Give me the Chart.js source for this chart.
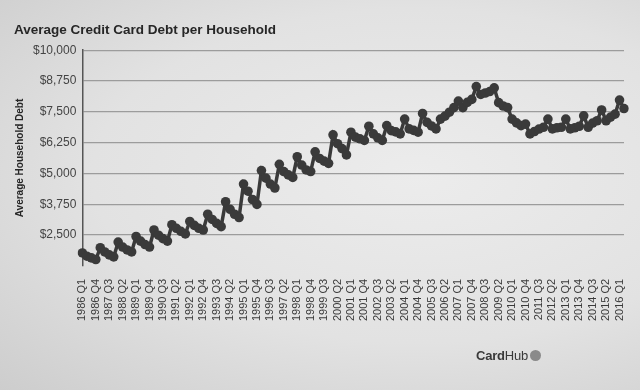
<!DOCTYPE html>
<html>
<head>
<meta charset="utf-8">
<script src="https://cdn.jsdelivr.net/npm/chart.js@4.4.1/dist/chart.umd.min.js"></script>
<style>
  html, body {
    margin: 0;
    padding: 0;
  }
  body {
    width: 640px;
    height: 390px;
    overflow: hidden;
    position: relative;
    background: radial-gradient(ellipse at 65% 45%, #ececec 0%, #e2e2e2 55%, #cdcdcd 100%);
    font-family: "Liberation Sans", Arial, sans-serif;
  }
  #chart {
    position: absolute;
    left: 0;
    top: 0;
  }
  .brand {
    position: absolute;
    left: 476px;
    top: 348px;
    font-size: 13px;
    color: #3a3a3a;
    letter-spacing: -0.2px;
  }
  .brand b {
    font-weight: 700;
  }
  .brand span {
    display: inline-block;
    width: 11px;
    height: 11px;
    margin-left: 2px;
    border-radius: 50%;
    background: #8a8a8a;
    vertical-align: -1px;
  }
</style>
</head>
<body>
<canvas id="chart" width="640" height="390"></canvas>
<div class="brand"><b>Card</b>Hub<span></span></div>
<script>
// years covered, quarter names
const years = [1986, 1987, 1988, 1989, 1990, 1991, 1992, 1993, 1994, 1995,
  1996, 1997, 1998, 1999, 2000, 2001, 2002, 2003, 2004, 2005,
  2006, 2007, 2008, 2009, 2010, 2011, 2012, 2013, 2014, 2015, 2016];
const quarterNames = ['Q1', 'Q2', 'Q3', 'Q4'];
const lastQuarters = 2; // 2016 stops at Q2

// average debt per household, one row per year (Q1..Q4)
const debt = [
  1772, 1640, 1573, 1505,
  1984, 1812, 1692, 1613,
  2212, 2012, 1892, 1812,
  2439, 2252, 2112, 2012,
  2703, 2491, 2352, 2252,
  2918, 2771, 2651, 2543,
  3050, 2891, 2771, 2703,
  3342, 3130, 2970, 2839,
  3849, 3542, 3342, 3210,
  4568, 4277, 3941, 3741,
  5115, 4808, 4568, 4408,
  5367, 5075, 4940, 4836,
  5675, 5339, 5139, 5075,
  5874, 5607, 5499, 5407,
  6565, 6206, 6006, 5750,
  6673, 6473, 6405, 6337,
  6913, 6605, 6445, 6337,
  6937, 6737, 6685, 6605,
  7204, 6805, 6745, 6673,
  7432, 7072, 6925, 6805,
  7204, 7324, 7484, 7671,
  7935, 7671, 7883, 8003,
  8522, 8203, 8263, 8323,
  8470, 7871, 7735, 7671,
  7204, 7050, 6937, 7000,
  6600, 6700, 6800, 6870,
  7204, 6805, 6850, 6873,
  7204, 6805, 6850, 6913,
  7336, 6873, 7044, 7136,
  7576, 7136, 7284, 7404,
  7975, 7632
];

const yTicks = [2500, 3750, 5000, 6250, 7500, 8750, 10000];

const labels = [];
years.forEach((year, i) => {
  const count = i === years.length - 1 ? lastQuarters : 4;
  for (let q = 0; q < count; q++) {
    labels.push(`${year} ${quarterNames[q]}`);
  }
});

const ink = '#3a3a3a';
const fontFamily = '"Liberation Sans", Arial, sans-serif';

new Chart(document.getElementById('chart'), {
  type: 'line',
  data: {
    labels: labels,
    datasets: [{
      data: debt,
      borderColor: ink,
      backgroundColor: ink,
      borderWidth: 3.5,
      pointRadius: 4.8,
      pointBorderWidth: 0,
      pointBackgroundColor: ink,
      tension: 0,
    }],
  },
  options: {
    responsive: false,
    animation: false,
    layout: {
      padding: { left: 14, right: 16, top: 0, bottom: 64 },
    },
    plugins: {
      legend: { display: false },
      tooltip: { enabled: false },
      title: {
        display: true,
        text: 'Average Credit Card Debt per Household',
        align: 'start',
        color: '#262626',
        font: { family: fontFamily, size: 13.5, weight: 'bold' },
        padding: { top: 22, bottom: 12 },
      },
    },
    scales: {
      x: {
        grid: { display: false },
        border: { display: false },
        ticks: {
          autoSkip: false,
          minRotation: 90,
          maxRotation: 90,
          padding: 5,
          color: '#3a3a3a',
          font: { family: fontFamily, size: 11 },
          callback: (value, index) => (index % 3 === 0 ? labels[index] : null),
        },
      },
      y: {
        min: 1250,
        max: 10000,
        afterBuildTicks: (axis) => {
          axis.ticks = [1250].concat(yTicks).map((v) => ({ value: v }));
        },
        ticks: {
          padding: 6,
          color: '#444',
          font: { family: fontFamily, size: 12 },
          callback: (value) => (yTicks.includes(value) ? '$' + value.toLocaleString('en-US') : null),
        },
        grid: {
          color: '#9c9c9c',
          lineWidth: 1.2,
          drawTicks: false,
        },
        border: { display: true, color: '#555', width: 1.5 },
        title: {
          display: true,
          text: 'Average Household Debt',
          color: '#262626',
          font: { family: fontFamily, size: 10, weight: 'bold' },
          padding: { top: 0, bottom: 1 },
        },
      },
    },
  },
});
</script>
</body>
</html>
